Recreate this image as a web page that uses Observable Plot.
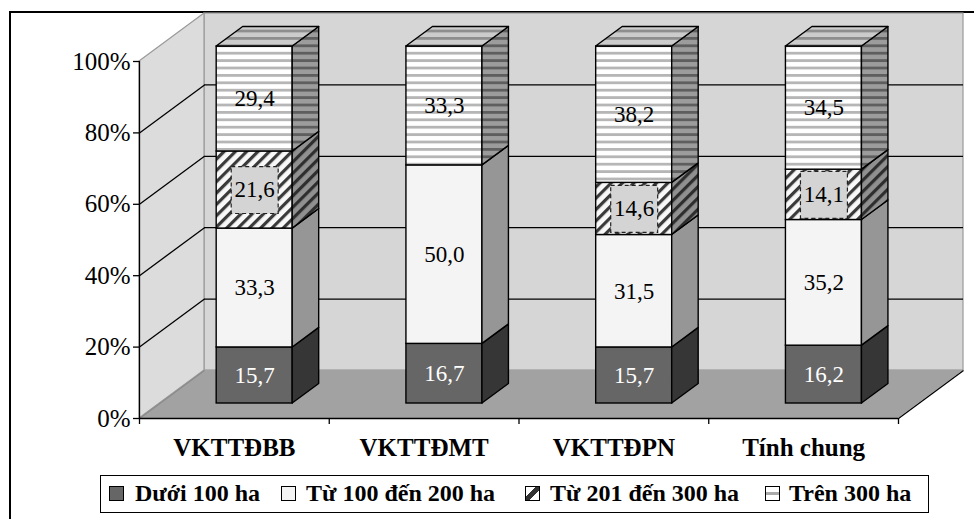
<!DOCTYPE html>
<html>
<head>
<meta charset="utf-8">
<script src="https://cdn.jsdelivr.net/npm/d3@7"></script>
<script src="https://cdn.jsdelivr.net/npm/@observablehq/plot@0.6"></script>
<style>
  body { margin: 0; background: #fff; }
  #wrap { position: relative; width: 974px; height: 519px; overflow: hidden; font-family: "Liberation Serif", "LiberationSerif", "Tinos", "Times New Roman", Times, "DejaVu Serif", "Noto Serif", serif; background:#fff; }
  #frame { position: absolute; left: 9px; top: 11px; width: 990px; height: 540px; border-left: 2px solid #000; border-top: 2px solid #000; box-sizing: border-box; }
  #chart { position: absolute; left: 0; top: 0; }
  #legend { position: absolute; left: 100px; top: 475px; width: 829px; height: 38px; border: 1.5px solid #000; box-sizing: border-box; background: #fff; font-weight: bold; font-size: 24px; color: #000; }
  .item { position: absolute; top: 0; height: 35px; display: flex; align-items: center; white-space: nowrap; }
  .sw { width: 13px; height: 13px; border: 1px solid #000; flex: none; }
</style>
</head>
<body>
<div id="wrap">
  <div id="frame"></div>
  <div id="chart"></div>
  <div id="legend"></div>
</div>
<script>
// ---- data ----
const categories = ["VKTTĐBB", "VKTTĐMT", "VKTTĐPN", "Tính chung"];
const seriesNames = ["Dưới 100 ha", "Từ 100 đến 200 ha", "Từ 201 đến 300 ha", "Trên 300 ha"];
const duoi100 = [15.7, 16.7, 15.7, 16.2];
const tu100den200 = [33.3, 50.0, 31.5, 35.2];
const tu201den300 = [21.6, 0, 14.6, 14.1];
const tren300 = [29.4, 33.3, 38.2, 34.5];
const yTicks = [0, 20, 40, 60, 80, 100];
const gridValues = [20, 40, 60, 80];

// ---- styles ----
const FONT = "'Liberation Serif', 'LiberationSerif', 'Tinos', 'Times New Roman', Times, 'DejaVu Serif', 'Noto Serif', serif";
const frontFill = ["#666666", "#f4f4f4", "url(#hatchF)", "url(#stripeF)"];
const sideFill = ["#363636", "#969696", "url(#hatchS)", "url(#stripeS)"];
const topFill = "url(#stripeT)";
const swatchCss = [
  "background:#666666",
  "background:#f4f4f4",
  "background:linear-gradient(to bottom right,#fff 0 36%,#333 36% 64%,#fff 64%)",
  "background:linear-gradient(#fff 0 36%,#aaa 36% 64%,#fff 64%)"
];
const legendPos = [[8, 34], [180, 205], [424, 449], [664, 688]];

// ---- 3D geometry (in scale units) ----
const WX = 65 / 189.75;  // full depth, x
const WY = 48 / 3.57;    // full depth, y
const F0 = 0.3125, F1 = 0.72; // bar front/back depth fractions
const HW = 0.2003;            // half bar width

const valueArrays = [duoi100, tu100den200, tu201den300, tren300];
const segs = [];
categories.forEach((c, i) => {
  let acc = 0;
  valueArrays.forEach((arr, s) => {
    const v = arr[i];
    if (v > 0) segs.push({i, c, s, v, y0: acc, y1: acc + v, key: i + "-" + s});
    acc += v;
  });
});
const total = i => valueArrays.reduce((a, arr) => a + arr[i], 0);

const sidePts = [];
segs.forEach(d => {
  const xr = d.i + 0.5 + HW;
  sidePts.push({key: d.key, s: d.s, x: xr + F0 * WX, ya: d.y0 + F0 * WY, yb: d.y1 + F0 * WY});
  sidePts.push({key: d.key, s: d.s, x: xr + F1 * WX, ya: d.y0 + F1 * WY, yb: d.y1 + F1 * WY});
});
const topPts = [];
categories.forEach((c, i) => {
  const t = total(i);
  topPts.push({key: i, y: t + F0 * WY, xa: i + 0.5 - HW + F0 * WX, xb: i + 0.5 + HW + F0 * WX});
  topPts.push({key: i, y: t + F1 * WY, xa: i + 0.5 - HW + F1 * WX, xb: i + 0.5 + HW + F1 * WX});
});

const marks = [];
// back wall
marks.push(Plot.rect([0], {x1: WX, x2: 4 + WX, y1: WY, y2: 100 + WY, fill: "#d6d6d6", stroke: "#9a9a9a", strokeWidth: 1.2}));
// left wall
marks.push(Plot.areaY([{x: 0, ya: 0, yb: 100}, {x: WX, ya: WY, yb: 100 + WY}], {x: "x", y1: "ya", y2: "yb", fill: "#dcdcdc", stroke: "#9a9a9a", strokeWidth: 1.2}));
// floor
marks.push(Plot.areaX([{y: 0, xa: 0, xb: 4}, {y: WY, xa: WX, xb: 4 + WX}], {y: "y", x1: "xa", x2: "xb", fill: "#a2a2a2"}));
marks.push(Plot.link([0], {x1: 0, y1: 0, x2: WX, y2: WY, stroke: "#8a8a8a", strokeWidth: 1.2}));
marks.push(Plot.link([0], {x1: 4, y1: 0, x2: 4 + WX, y2: WY, stroke: "#000", strokeWidth: 1.3}));
// gridlines
marks.push(Plot.ruleY(gridValues, {y: d => d + WY, x1: WX, x2: 4 + WX, stroke: "#000", strokeWidth: 1.3}));
marks.push(Plot.link(gridValues, {x1: 0, y1: d => d, x2: WX, y2: d => d + WY, stroke: "#000", strokeWidth: 1.3}));
// axes
marks.push(Plot.ruleX([0], {y1: 0, y2: 100, stroke: "#000", strokeWidth: 1.3}));
marks.push(Plot.ruleY([0], {x1: 0, x2: 4, stroke: "#000", strokeWidth: 1.3}));
marks.push(Plot.axisY(yTicks, {tickSize: 6, tickPadding: 3, tickFormat: d => d + "%", fontSize: 25, strokeWidth: 1.3}));
marks.push(Plot.axisX([0, 1, 2, 3, 4], {tickSize: 6, tickFormat: () => "", strokeWidth: 1.3}));
marks.push(Plot.text(categories, {x: (d, i) => i + 0.5, y: () => 0, dy: 29, fontSize: 25, fontWeight: "bold", lineAnchor: "middle"}));

// bars
for (let s = 0; s < 4; s++) {
  const fs = segs.filter(d => d.s === s);
  marks.push(Plot.rect(fs, {
    x1: d => d.i + 0.5 - HW + F0 * WX, x2: d => d.i + 0.5 + HW + F0 * WX,
    y1: d => d.y0 + F0 * WY, y2: d => d.y1 + F0 * WY,
    fill: frontFill[s], stroke: "#000", strokeWidth: 1.4
  }));
  marks.push(Plot.areaY(sidePts.filter(d => d.s === s), {x: "x", y1: "ya", y2: "yb", z: "key", fill: sideFill[s], stroke: "#000", strokeWidth: 1.4}));
}
marks.push(Plot.areaX(topPts, {y: "y", x1: "xa", x2: "xb", z: "key", fill: topFill, stroke: "#000", strokeWidth: 1.4}));

// label boxes for hatched series
const cx = d => d.i + 0.5 + F0 * WX;
const cy = d => (d.y0 + d.y1) / 2 + F0 * WY;
marks.push(Plot.dot(segs.filter(d => d.s === 2), {x: cx, y: cy, symbol: "square", r: 26.5, fill: "#d4d4d4", stroke: "#222", strokeWidth: 1.2, strokeDasharray: "4,3"}));
const fmt = v => v.toFixed(1).replace(".", ",");
marks.push(Plot.text(segs.filter(d => d.s === 0), {x: cx, y: cy, text: d => fmt(d.v), fill: "#fff", fontSize: 23}));
marks.push(Plot.text(segs.filter(d => d.s !== 0), {x: cx, y: cy, text: d => fmt(d.v), fill: "#000", fontSize: 23}));

const svg = Plot.plot({
  width: 974,
  height: 470,
  marginLeft: 139,
  marginRight: 76,
  marginTop: 61,
  marginBottom: 52,
  x: {type: "linear", domain: [0, 4], axis: null},
  y: {type: "linear", domain: [0, 100], axis: null},
  style: {fontFamily: FONT, color: "#000", background: "transparent", overflow: "visible"},
  marks
});
svg.setAttribute("font-family", FONT);
svg.querySelectorAll("g[aria-label]").forEach(g => g.setAttribute("font-family", FONT));

const defs = document.createElementNS("http://www.w3.org/2000/svg", "defs");
defs.innerHTML = `
<pattern id="stripeF" patternUnits="userSpaceOnUse" width="8" height="7.4">
  <rect width="8" height="7.4" fill="#ffffff"/><rect y="0" width="8" height="2.8" fill="#b6b6b6"/>
</pattern>
<pattern id="stripeS" patternUnits="userSpaceOnUse" width="8" height="7.4">
  <rect width="8" height="7.4" fill="#9c9c9c"/><rect y="0" width="8" height="2.8" fill="#5e5e5e"/>
</pattern>
<pattern id="stripeT" patternUnits="userSpaceOnUse" width="8" height="7.4">
  <rect width="8" height="7.4" fill="#cccccc"/><rect y="0" width="8" height="2.8" fill="#8e8e8e"/>
</pattern>
<pattern id="hatchF" patternUnits="userSpaceOnUse" width="8" height="8" patternTransform="rotate(45)">
  <rect width="8" height="8" fill="#f8f8f8"/><rect x="0" y="0" width="3.2" height="8" fill="#3a3a3a"/>
</pattern>
<pattern id="hatchS" patternUnits="userSpaceOnUse" width="8" height="8" patternTransform="rotate(45)">
  <rect width="8" height="8" fill="#909090"/><rect x="0" y="0" width="3.2" height="8" fill="#2e2e2e"/>
</pattern>`;
svg.insertBefore(defs, svg.firstChild);
document.getElementById("chart").appendChild(svg);

// legend
const legend = document.getElementById("legend");
seriesNames.forEach((name, k) => {
  const item = document.createElement("div");
  item.className = "item";
  item.style.left = legendPos[k][0] + "px";
  const sw = document.createElement("span");
  sw.className = "sw";
  sw.style.cssText = swatchCss[k];
  sw.style.marginRight = (legendPos[k][1] - legendPos[k][0] - 15) + "px";
  const tx = document.createElement("span");
  tx.textContent = name;
  item.appendChild(sw);
  item.appendChild(tx);
  legend.appendChild(item);
});
</script>
</body>
</html>
